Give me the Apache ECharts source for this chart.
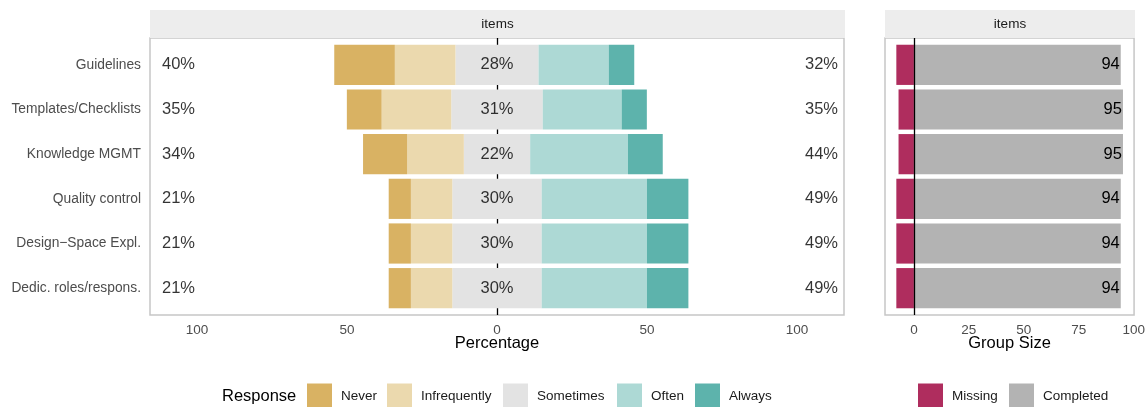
<!DOCTYPE html>
<html>
<head>
<meta charset="utf-8">
<script src="https://cdn.jsdelivr.net/npm/echarts@6/dist/echarts.min.js"></script>
<style>
    html, body { margin: 0; padding: 0; background: #fff; }
    #chart { width: 1148px; height: 407px; }
</style>
</head>
<body>
<div id="chart"></div>
<script>
// data (percent of answers per item)
const items = ['Guidelines', 'Templates/Checklists', 'Knowledge MGMT', 'Quality control', 'Design−Space Expl.', 'Dedic. roles/respons.'];
const responses = ['Never', 'Infrequently', 'Sometimes', 'Often', 'Always'];
const never = [20.2, 11.6, 14.7, 7.4, 7.4, 7.4];
const infrequently = [20.2, 23.2, 18.9, 13.8, 13.8, 13.8];
const sometimes = [27.7, 30.5, 22.1, 29.8, 29.8, 29.8];
const often = [23.4, 26.3, 32.6, 35.1, 35.1, 35.1];
const always = [8.5, 8.4, 11.6, 13.8, 13.8, 13.8];
// group size panel
const groups = ['Missing', 'Completed'];
const missing = [8, 7, 7, 8, 8, 8];
const completed = [94, 95, 95, 94, 94, 94];
// tick labels
const pctTicks = [-100, -50, 0, 50, 100];
const sizeTicks = [0, 25, 50, 75, 100];

const respColors = ['#D9B263', '#EBD9AE', '#E3E3E3', '#ADD9D5', '#5DB3AC'];
const groupColors = ['#AF2D5E', '#B3B3B3'];
const FONT = '"Liberation Sans", Arial, Helvetica, sans-serif';

// layout
const PCT_MAX = 115.67;           // left panel x extent (both sides)
const SIZE_MIN = -13.15, SIZE_MAX = 100.15;
const panelTop = 38, panelH = 277;
const barTop = 42.5, barH = 268;
const leftX = 150, leftW = 694;
const rightX = 885, rightW = 249.3;

const lowPct = items.map((_, i) => Math.round(never[i] + infrequently[i]) + '%');
const midPct = items.map((_, i) => Math.round(sometimes[i]) + '%');
const highPct = items.map((_, i) => Math.round(often[i] + always[i]) + '%');

const chart = echarts.init(document.getElementById('chart'));

function barSeries(name, values, color, stack, axis) {
    return {
        name: name,
        type: 'bar',
        stack: stack,
        xAxisIndex: axis,
        yAxisIndex: axis,
        barWidth: '90%',
        data: values,
        itemStyle: { color: color },
        z: 2
    };
}

function pctLabels(x, texts, align) {
    return {
        type: 'scatter',
        xAxisIndex: 1,
        yAxisIndex: 1,
        symbolSize: 1,
        itemStyle: { color: 'rgba(0,0,0,0)' },
        data: texts.map((t, i) => ({ value: [x, i], name: t })),
        label: {
            show: true,
            position: 'inside',
            align: align,
            formatter: '{b}',
            color: '#000',
            fontSize: 16.5,
            fontFamily: FONT
        },
        z: 4
    };
}

function zeroLine(axis, z) {
    return {
        type: 'line',
        xAxisIndex: axis,
        yAxisIndex: axis,
        data: [],
        z: z,
        markLine: {
            silent: true,
            symbol: 'none',
            label: { show: false },
            lineStyle: { color: '#000', width: 1.3, type: 'solid' },
            data: [{ xAxis: 0 }],
            z: z
        }
    };
}

const axisText = { color: '#4D4D4D', fontSize: 13.5, fontFamily: FONT };
const nameText = { color: '#000', fontSize: 16.5, fontFamily: FONT };

const legendX = [307, 387, 503, 617, 695];
const groupLegendX = [918, 1009];
const legendBase = {
    top: 383.5,
    icon: 'rect',
    itemWidth: 25,
    itemHeight: 25,
    itemGap: 0,
    padding: 0,
    textStyle: { color: '#1A1A1A', fontSize: 13.5, fontFamily: FONT, padding: [0, 0, 0, 4] }
};

const option = {
    animation: false,
    textStyle: { fontFamily: FONT },
    grid: [
        { left: leftX, top: panelTop, width: leftW, height: panelH, show: true, backgroundColor: '#fff', borderColor: '#C6C6C6', borderWidth: 1.5 },
        { left: leftX, top: barTop, width: leftW, height: barH },
        { left: rightX, top: panelTop, width: rightW, height: panelH, show: true, backgroundColor: '#fff', borderColor: '#C6C6C6', borderWidth: 1.5 },
        { left: rightX, top: barTop, width: rightW, height: barH }
    ],
    xAxis: [
        {
            gridIndex: 0, type: 'value', min: -PCT_MAX, max: PCT_MAX,
            axisLine: { show: false }, axisTick: { show: false }, splitLine: { show: false },
            axisLabel: Object.assign({ customValues: pctTicks, margin: 8, formatter: v => Math.abs(v) }, axisText),
            name: 'Percentage', nameLocation: 'middle', nameGap: 20, nameMoveOverlap: false, nameTextStyle: nameText
        },
        { gridIndex: 1, type: 'value', min: -PCT_MAX, max: PCT_MAX, show: false },
        {
            gridIndex: 2, type: 'value', min: SIZE_MIN, max: SIZE_MAX,
            axisLine: { show: false }, axisTick: { show: false }, splitLine: { show: false },
            axisLabel: Object.assign({ customValues: sizeTicks, margin: 8 }, axisText),
            name: 'Group Size', nameLocation: 'middle', nameGap: 20, nameMoveOverlap: false, nameTextStyle: nameText
        },
        { gridIndex: 3, type: 'value', min: SIZE_MIN, max: SIZE_MAX, show: false }
    ],
    yAxis: [
        { gridIndex: 0, type: 'value', min: 0, max: 1, show: false },
        {
            gridIndex: 1, type: 'category', data: items, inverse: true,
            axisLine: { show: false },
            axisTick: { show: true, alignWithLabel: true, length: 3, lineStyle: { color: '#fff', width: 1 } },
            axisLabel: Object.assign({ margin: 9 }, axisText, { fontSize: 13.8 })
        },
        { gridIndex: 2, type: 'value', min: 0, max: 1, show: false },
        {
            gridIndex: 3, type: 'category', data: items, inverse: true,
            axisLine: { show: false }, axisTick: { show: false }, axisLabel: { show: false }
        }
    ],
    legend: responses.map((name, i) => Object.assign({ data: [name], left: legendX[i] }, legendBase))
        .concat(groups.map((name, i) => Object.assign({ data: [name], left: groupLegendX[i] }, legendBase))),
    graphic: [
        { type: 'rect', left: leftX, top: 10, shape: { width: 695, height: 28 }, style: { fill: '#EDEDED' }, silent: true },
        { type: 'rect', left: rightX, top: 10, shape: { width: 250, height: 28 }, style: { fill: '#EDEDED' }, silent: true },
        { type: 'text', x: leftX + 347.5, y: 24, style: { text: 'items', fill: '#1A1A1A', font: '13.5px ' + FONT, align: 'center', verticalAlign: 'middle' }, silent: true },
        { type: 'text', x: rightX + 125, y: 24, style: { text: 'items', fill: '#1A1A1A', font: '13.5px ' + FONT, align: 'center', verticalAlign: 'middle' }, silent: true },
        { type: 'text', x: 222, y: 396.5, style: { text: 'Response', fill: '#000', font: '16.5px ' + FONT, verticalAlign: 'middle' }, silent: true }
    ],
    series: [
        zeroLine(0, 1),
        // negative side: sometimes half, then infrequently, then never outermost
        barSeries('Sometimes', sometimes.map(v => -v / 2), respColors[2], 'resp', 1),
        barSeries('Infrequently', infrequently.map(v => -v), respColors[1], 'resp', 1),
        barSeries('Never', never.map(v => -v), respColors[0], 'resp', 1),
        // positive side
        barSeries('Sometimes', sometimes.map(v => v / 2), respColors[2], 'resp', 1),
        barSeries('Often', often, respColors[3], 'resp', 1),
        barSeries('Always', always, respColors[4], 'resp', 1),
        pctLabels(-111.67, lowPct, 'left'),
        pctLabels(0, midPct, 'center'),
        pctLabels(113.67, highPct, 'right'),
        // group size panel
        barSeries('Missing', missing.map(v => -v), groupColors[0], 'n', 3),
        Object.assign(barSeries('Completed', completed, groupColors[1], 'n', 3), {
            label: { show: true, position: 'insideRight', distance: 1, color: '#000', fontSize: 16.5, fontFamily: FONT }
        }),
        zeroLine(2, 6)
    ]
};

chart.setOption(option);
</script>
</body>
</html>
